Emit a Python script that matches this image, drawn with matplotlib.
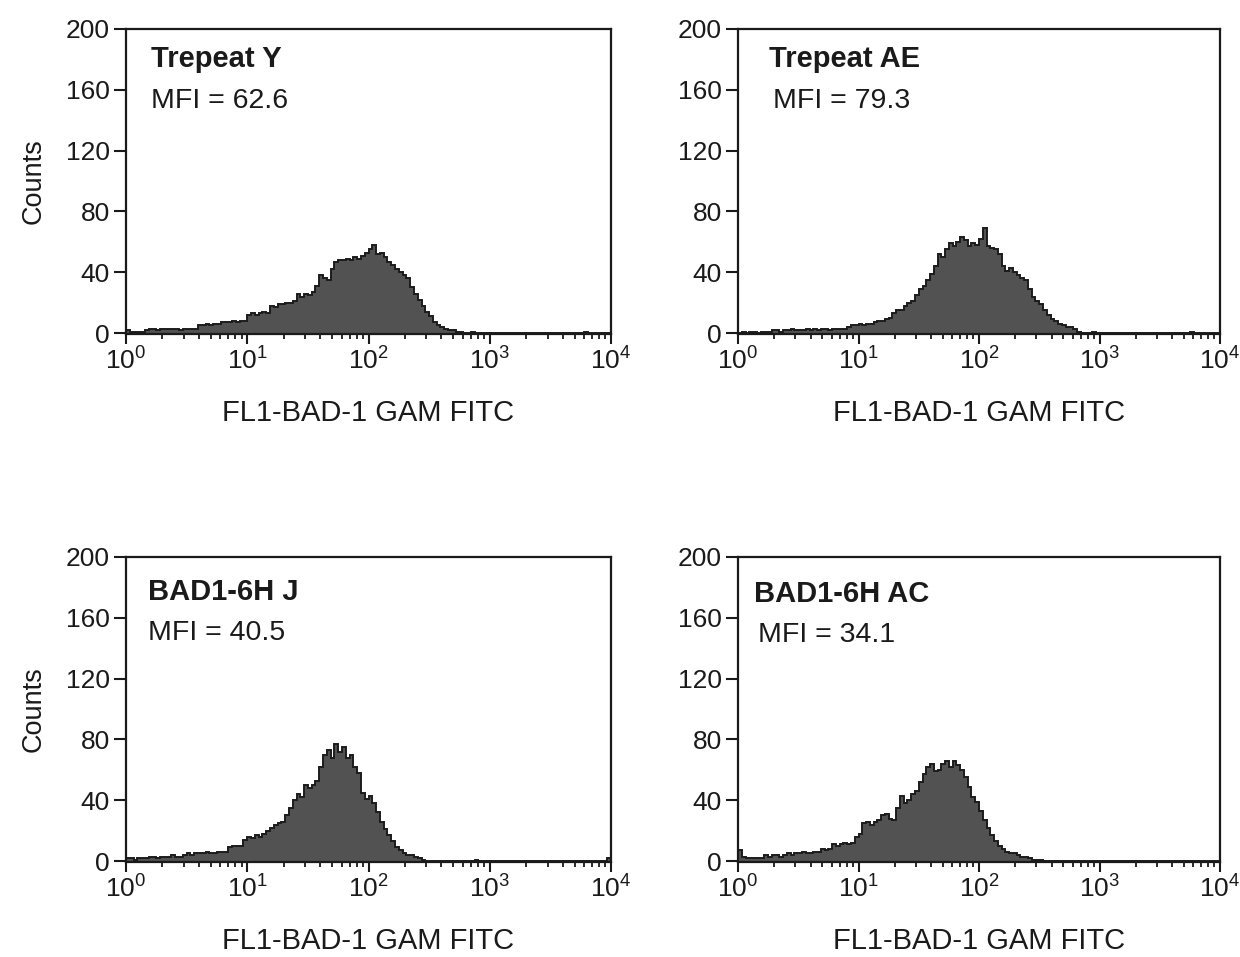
import numpy as np
import matplotlib
matplotlib.use('Agg')
import matplotlib.pyplot as plt
import matplotlib.ticker as ticker

plt.rcParams['font.family'] = ['Liberation Sans', 'DejaVu Sans']
plt.rcParams['mathtext.fontset'] = 'custom'
plt.rcParams['mathtext.rm'] = 'Liberation Sans'
plt.rcParams['mathtext.it'] = 'Liberation Sans'

# 128 log channels spanning 10^0 .. 10^4
names = ['Trepeat Y', 'Trepeat AE', 'BAD1-6H J', 'BAD1-6H AC']
mfi = ['62.6', '79.3', '40.5', '34.1']

counts_y = [
    2, 1, 1, 1, 1, 2,
    3, 3, 2, 3, 3, 3, 3, 3, 2, 3, 3, 3, 3,
    5, 5, 6, 5, 6, 6, 7,
    7, 7, 8, 7, 8, 8,
    12, 13, 12, 13, 14, 13,
    18, 17, 19, 19, 20, 20, 21,
    26, 24, 26, 25, 27,
    31, 38, 36, 35, 42,
    47, 48, 48, 49, 48, 50, 49, 51,
    53, 55, 58, 52, 53,
    50, 47, 45,
    42, 40, 38, 36, 30,
    26, 22, 18, 14, 11,
    7, 5, 4, 3, 2, 2,
    1, 1, 0, 0, 1, 0, 0, 0, 0, 0, 0, 0, 0, 0, 0, 0, 0, 0, 0, 0,
    0, 0, 0, 0, 0, 0, 0, 0, 0, 0, 0, 0, 0, 0, 1, 0, 0, 0, 0, 0, 0,
]
counts_ae = [
    0, 1, 0, 1, 1, 0, 1, 1, 1,
    2, 2, 1, 2, 2, 3, 2, 2, 2, 3, 2, 3, 2, 3, 3, 2, 3, 3, 3, 3, 4,
    5, 5, 6, 5, 6, 6, 7,
    8, 8, 9, 10,
    13, 15, 15,
    18, 20, 21,
    25, 29, 31,
    35, 39,
    44, 52, 50,
    55, 59, 57,
    60, 63, 61,
    57, 59, 58,
    62, 69, 57,
    56, 55, 52,
    44, 41, 43,
    40, 38, 36,
    35, 29, 24,
    21, 19, 15,
    12, 9, 8,
    6, 5, 4,
    4, 3, 1,
    0, 0, 0, 1, 0, 0, 0, 0, 0, 0, 0, 0, 0, 0, 0, 0, 0, 0, 0,
    0, 0, 0, 0, 0, 0, 0, 0, 0, 0, 1, 0, 0, 0, 0, 0, 0, 0,
]
counts_j = [
    2, 2, 1, 2, 2, 2,
    3, 3, 2, 3, 3, 3, 4, 3, 3,
    4, 5, 4, 5, 5, 5, 6, 5, 5, 6, 6, 6,
    9, 10, 10, 10,
    14, 16, 15, 17, 16, 18,
    20, 22, 24, 25, 26,
    30, 35,
    40, 44, 42,
    50, 48, 50,
    53, 62,
    70, 73, 68,
    77, 72, 75,
    68, 70, 62,
    58, 45, 41,
    43, 38, 32,
    26, 21, 17,
    13, 9, 7,
    5, 4, 4,
    3, 2, 1,
    0, 0, 0, 0, 0, 0, 0, 0, 0, 0, 0, 0, 0, 1, 0, 0, 0, 0, 0, 0, 0, 0, 0, 0, 0,
    0, 0, 0, 0, 0, 0, 0, 0, 0, 0, 0, 0, 0, 0, 0, 0, 0, 0, 0, 0, 0, 0, 0, 2,
]
counts_ac = [
    7, 3,
    2, 2, 2, 2, 2,
    4, 3, 4, 4, 3, 4,
    5, 4, 5, 5, 6, 5, 5, 6, 6,
    8, 7, 8,
    11, 10, 11, 12, 11, 12,
    16, 18,
    25, 26, 24, 26, 27,
    30, 31,
    28, 27,
    35, 43,
    38, 40,
    44, 46,
    52, 57,
    62, 64,
    59, 60,
    64, 66, 62, 66,
    63, 60,
    55, 49,
    42, 39,
    33, 27,
    22, 17,
    13, 10,
    8, 6,
    5, 5, 4,
    3, 3, 2,
    1, 1, 1,
    0, 0, 0, 0, 0, 0, 0, 0, 0, 0, 0, 0, 0, 0, 0, 0, 0, 0, 0, 0, 0, 0, 0, 0,
    0, 0, 0, 0, 0, 0, 0, 0, 0, 0, 0, 0, 0, 0, 0, 0, 0, 0, 0, 0, 0, 0, 0,
]
all_counts = [counts_y, counts_ae, counts_j, counts_ac]

edges = np.logspace(0, 4, len(counts_y) + 1)

W, H = 1240, 957
# axes boxes in pixels: left, top, right, bottom
boxes = [(126, 29, 611, 334), (738, 29, 1220, 334),
         (126, 557, 611, 862), (738, 557, 1220, 862)]
# label offsets in pixels from box left/top: (title_x, title_y, mfi_x, mfi_y)
label_pos = [(25, 38, 25, 79), (31, 38, 35, 79),
             (22, 43, 22, 83), (16, 45, 20, 85)]

fig = plt.figure(figsize=(W / 100, H / 100), dpi=100)


def log_fmt(v, pos):
    return r'$\mathregular{10^{%d}}$' % int(round(np.log10(v)))


for i, (counts, name, m) in enumerate(zip(all_counts, names, mfi)):
    l, t, r, b = boxes[i]
    ax = fig.add_axes([l / W, 1 - b / H, (r - l) / W, (b - t) / H])
    ax.stairs(counts, edges, fill=True, color='#525252', linewidth=0)
    ax.stairs(counts, edges, fill=False, color='#1c1c1c', linewidth=1.4)
    ax.set_xscale('log')
    ax.set_xlim(1, 1e4)
    ax.set_ylim(-0.6, 200)
    ax.set_yticks([0, 40, 80, 120, 160, 200])
    ax.xaxis.set_major_locator(ticker.LogLocator(base=10, numticks=10))
    ax.xaxis.set_minor_locator(ticker.LogLocator(base=10, subs=np.arange(2, 10), numticks=10))
    ax.xaxis.set_major_formatter(ticker.FuncFormatter(log_fmt))
    ax.xaxis.set_minor_formatter(ticker.NullFormatter())
    for s in ax.spines.values():
        s.set_linewidth(1.6)
        s.set_color('#1a1a1a')
    ax.tick_params(axis='y', direction='out', length=8.5, width=1.5, pad=3,
                   labelsize=19, colors='#1a1a1a')
    ax.tick_params(axis='x', which='major', direction='out', length=7, width=1.5,
                   pad=3, labelsize=19, colors='#1a1a1a')
    ax.tick_params(axis='x', which='minor', direction='out', length=3.5, width=1.3,
                   colors='#1a1a1a')
    ax.set_xlabel('FL1-BAD-1 GAM FITC', fontsize=21, labelpad=17, color='#1a1a1a')
    if i % 2 == 0:
        ax.set_ylabel('Counts', fontsize=19.5, labelpad=14, color='#1a1a1a')
    tx, ty, mx, my = label_pos[i]
    bw, bh = r - l, b - t
    ax.text(tx / bw, 1 - ty / bh, name, transform=ax.transAxes, fontsize=21,
            fontweight='bold', ha='left', va='baseline', color='#1a1a1a')
    ax.text(mx / bw, 1 - my / bh, 'MFI = ' + m, transform=ax.transAxes, fontsize=20.5,
            ha='left', va='baseline', color='#1a1a1a')

fig.savefig('out.png', dpi=100)
